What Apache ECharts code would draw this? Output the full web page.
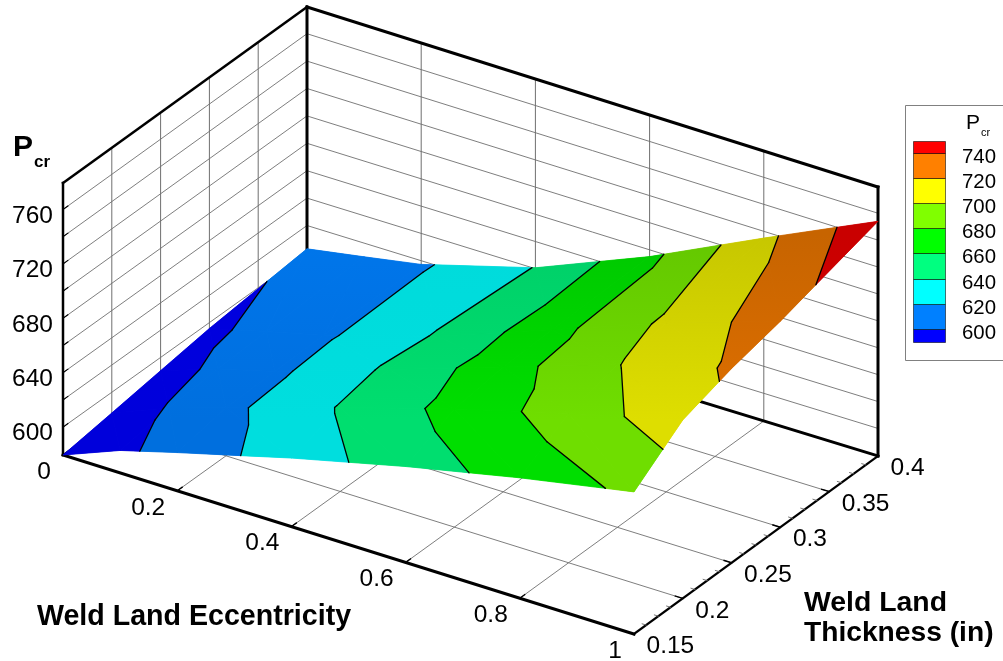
<!DOCTYPE html>
<html><head><meta charset="utf-8">
<style>html,body{margin:0;padding:0;background:#fff}#c{width:1003px;height:661px}</style>
<script src="https://cdn.jsdelivr.net/npm/echarts@6/dist/echarts.min.js"></script>
</head><body><div id="c"></div>
<script>
// ---- data ----
const eccentricity = [0, 0.1, 0.2, 0.4, 0.6, 0.8, 1];
const thickness = [0.15, 0.2, 0.25, 0.3, 0.4];
const pAtT015 = [579.5, 596, 607.6, 629.9, 650, 668, 684];
const pAtT020 = [584.8, 601.6, 614.8, 641.3, 666.5, 689.5, 711];
const pAtT025 = [590.3, 604.5, 615.7, 643.3, 671.5, 699.3, 723];
const pAtT030 = [595.7, 606.4, 616.6, 642, 673, 704, 732];
const pAtT040 = [603, 610, 617.3, 640.7, 675, 715, 754];
const pressureRows = [pAtT015, pAtT020, pAtT025, pAtT030, pAtT040];
const contourLevels = [600, 620, 640, 660, 680, 700, 720, 740];
const bandColors = ['#0000ff','#0080ff','#00ffff','#00ff80','#00ff00','#80ff00','#ffff00','#ff8000','#ff0000'];
const bandShadeFront = [0.86, 0.87, 0.87, 0.87, 0.87, 0.87, 0.87, 0.87, 0.85];
const bandShadeBack = [0.88, 0.92, 0.86, 0.81, 0.785, 0.78, 0.78, 0.78, 0.79];
const eccTicks = [0, 0.2, 0.4, 0.6, 0.8, 1];
const eccTickLabels = ['0','0.2','0.4','0.6','0.8','1'];
const thickTicks = [0.15, 0.2, 0.25, 0.3, 0.35, 0.4];
const thickTickLabels = ['0.15','0.2','0.25','0.3','0.35','0.4'];
const pTicks = [600, 640, 680, 720, 760];
const pGrid = [600, 620, 640, 660, 680, 700, 720, 740, 760];
const pRange = [579.5, 779.5];
const eRange = [0, 1];
const tRange = [0.15, 0.4];

// ---- camera: the box corners on the page (order: e0t0, e1t0, e1t1, e0t1) ----
const camX = [63, 634, 878, 307];
const camY = [455, 634, 456, 281];
const camH = [272, 272, 269, 274];
const bil = (c, u, v) => c[0]*(1-u)*(1-v) + c[1]*u*(1-v) + c[2]*u*v + c[3]*(1-u)*v;
const toU = e => (e - eRange[0]) / (eRange[1] - eRange[0]);
const toV = t => (t - tRange[0]) / (tRange[1] - tRange[0]);
function project(u, v, p) {
  const w = (p - pRange[0]) / (pRange[1] - pRange[0]);
  return [bil(camX, u, v), bil(camY, u, v) - w * bil(camH, u, v)];
}
function scaled(hex, f) {
  const n = parseInt(hex.slice(1), 16);
  const ch = s => Math.round(((n >> s) & 255) * f);
  return 'rgb(' + ch(16) + ',' + ch(8) + ',' + ch(0) + ')';
}
const shadeSpan = [420, 235]; // page heights over which the surface dims towards the back
function bandFill(b, api) {
  const a = api.coord([0, shadeSpan[0]]), c = api.coord([0, shadeSpan[1]]);
  return { type: 'linear', global: true, x: 0, y: a[1], x2: 0, y2: c[1], colorStops: [
    { offset: 0, color: scaled(bandColors[b], bandShadeFront[b]) },
    { offset: 1, color: scaled(bandColors[b], bandShadeBack[b]) } ] };
}
function bandSolid(b, pageY) {
  const s = Math.min(1, Math.max(0, (shadeSpan[0] - pageY) / (shadeSpan[0] - shadeSpan[1])));
  return scaled(bandColors[b], bandShadeFront[b] + s * (bandShadeBack[b] - bandShadeFront[b]));
}

// ---- triangles of the surface ----
const tris = [];
for (let j = 0; j < thickness.length - 1; j++) for (let i = 0; i < eccentricity.length - 1; i++) {
  const V = (a, b) => [toU(eccentricity[a]), toV(thickness[b]), pressureRows[b][a]];
  tris.push([V(i, j), V(i + 1, j), V(i, j + 1)]);
  tris.push([V(i + 1, j), V(i + 1, j + 1), V(i, j + 1)]);
}
const mix = (a, b, s) => [a[0]+(b[0]-a[0])*s, a[1]+(b[1]-a[1])*s, a[2]+(b[2]-a[2])*s];
function clip(poly, level, keepAbove) {
  const out = [];
  for (let k = 0; k < poly.length; k++) {
    const a = poly[k], b = poly[(k + 1) % poly.length];
    const ia = keepAbove ? a[2] >= level : a[2] <= level;
    const ib = keepAbove ? b[2] >= level : b[2] <= level;
    if (ia) out.push(a);
    if (ia !== ib) out.push(mix(a, b, (level - a[2]) / (b[2] - a[2])));
  }
  return out;
}
function bandPolys(t) {
  const r = [];
  bandColors.forEach((col, b) => {
    let poly = t;
    if (b > 0) poly = clip(poly, contourLevels[b - 1], true);
    if (poly.length && b < contourLevels.length) poly = clip(poly, contourLevels[b], false);
    if (poly.length >= 3) r.push({ b, pts: poly.map(q => project(q[0], q[1], q[2])) });
  });
  return r;
}

// ---- guide lines in data terms ----
const guides = [];
const seg = (a, b, color, width) => guides.push({ a, b, color, width });
const GRID = '#6f6f6f', K = '#000';
const [zLo, zHi] = pRange;
eccTicks.slice(1, -1).forEach(e => seg([toU(e), 0, zLo], [toU(e), 1, zLo], GRID, 0.9));
thickTicks.slice(1, -1).forEach(t => seg([0, toV(t), zLo], [1, toV(t), zLo], GRID, 0.9));
pGrid.forEach(p => {
  seg([0, 0, p], [0, 1, p], GRID, 0.9);
  seg([0, 1, p], [1, 1, p], GRID, 0.9);
});
thickTicks.slice(1, -1).forEach(t => seg([0, toV(t), zLo], [0, toV(t), zHi], GRID, 1));
eccTicks.slice(1, -1).forEach(e => seg([toU(e), 1, zLo], [toU(e), 1, zHi], GRID, 1));
seg([0,1,zLo],[1,1,zLo],K,3);
seg([0,0,zLo],[0,1,zLo],K,2);
seg([1,1,zLo],[1,1,zHi],K,3);
seg([0,1,zLo],[0,1,zHi],K,3);
seg([0,1,zHi],[1,1,zHi],K,3);
seg([0,0,zHi],[0,1,zHi],K,2.5);
seg([0,0,zLo],[0,0,zHi],K,2.5);
seg([0,0,zLo],[1,0,zLo],K,3);
seg([1,0,zLo],[1,1,zLo],K,2.2);
pGrid.forEach(p => seg([0,0,p],[0,0.02,p],K,1.1));
eccTicks.slice(1, -1).forEach(e => seg([toU(e),0,zLo],[toU(e),0.02,zLo],K,1.4));
thickTicks.slice(1, -1).forEach(t => seg([1,toV(t),zLo],[0.987,toV(t),zLo],K,1.5));
const thickMinorStep = 0.0125;
thickTicks.slice(0, -1).forEach(t => [1,2,3].forEach(k => {
  const q = toV(t + k * thickMinorStep);
  seg([1,q,zLo],[0.993,q,zLo],'#666',0.9);
}));

// ---- text ----
const FONT = '"Liberation Sans",Arial,sans-serif';
const labels = [];
const lab = (text, x, y, size, align, weight) => labels.push({ text, x, y, size, align, weight: weight || 'normal' });
eccTicks.forEach((e, i) => {
  const q = project(toU(e), 0, zLo);
  lab(eccTickLabels[i], q[0] - 12, q[1] + 17, 24.5, 'right');
});
thickTicks.forEach((t, i) => {
  const q = project(1, toV(t), zLo);
  lab(thickTickLabels[i], q[0] + 12.5, q[1] + 12.5, 24.5, 'left');
});
pTicks.forEach(p => {
  const q = project(0, 0, p);
  lab(String(p), q[0] - 10, q[1] + 6.5, 24.5, 'right');
});
lab('Weld Land Eccentricity', 37, 617, 28.6, 'left', 'bold');
lab('Weld Land', 804, 603, 28.4, 'left', 'bold');
lab('Thickness (in)', 804, 633, 28.2, 'left', 'bold');
lab('P', 13, 148, 30, 'left', 'bold');
lab('cr', 34, 162, 17, 'left', 'bold');

// ---- legend, bottom row upward ----
const legendBox = { x: 905, y: 105, w: 110, h: 255 };
const legendRows = [342, 329, 304, 279, 253, 228, 203, 178, 153, 141];
const legendBarX = [913, 945];
contourLevels.forEach((lv, i) => lab(String(lv), 962, legendRows[i + 1] + 4, 20.4, 'left'));
lab('P', 966, 123, 21, 'left');
lab('cr', 981, 133, 11, 'left');

const chart = echarts.init(document.getElementById('c'), null, { renderer: 'canvas' });
const xy = (api, q) => api.coord(q);
chart.setOption({
  animation: false,
  backgroundColor: '#fff',
  grid: { left: 0, top: 0, right: 0, bottom: 0 },
  xAxis: { type: 'value', min: 0, max: 1003, show: false },
  yAxis: { type: 'value', min: 0, max: 661, inverse: true, show: false },
  series: [
    {
      type: 'custom', coordinateSystem: 'cartesian2d', clip: false, silent: true, z: 1,
      data: guides.map((g, i) => [i, 0]),
      renderItem(params, api) {
        const g = guides[params.dataIndex];
        return { type: 'polyline', shape: { points: [xy(api, project(...g.a)), xy(api, project(...g.b))] },
          style: { stroke: g.color, lineWidth: g.width, fill: null, lineCap: 'square' } };
      }
    },
    { // seam backing under the surface fill
      type: 'custom', coordinateSystem: 'cartesian2d', clip: false, silent: true, z: 2,
      data: tris.map((t, i) => [i, 0]),
      renderItem(params, api) {
        return { type: 'group', children: bandPolys(tris[params.dataIndex]).map(o => {
          const cy = o.pts.reduce((s, q) => s + q[1], 0) / o.pts.length;
          return { type: 'polygon', shape: { points: o.pts.map(q => xy(api, q)) },
            style: { fill: bandSolid(o.b, cy), stroke: bandSolid(o.b, cy), lineWidth: 0.8 } };
        }) };
      }
    },
    { // surface fill
      type: 'custom', coordinateSystem: 'cartesian2d', clip: false, silent: true, z: 3,
      data: tris.map((t, i) => [i, 0]),
      renderItem(params, api) {
        return { type: 'group', children: bandPolys(tris[params.dataIndex]).map(o => ({
          type: 'polygon', shape: { points: o.pts.map(q => xy(api, q)) },
          style: { fill: bandFill(o.b, api), stroke: null } })) };
      }
    },
    {
      type: 'custom', coordinateSystem: 'cartesian2d', clip: false, silent: true, z: 4,
      data: tris.map((t, i) => [i, 0]),
      renderItem(params, api) {
        const t = tris[params.dataIndex];
        const children = [];
        contourLevels.forEach(lv => {
          const pts = [];
          for (let k = 0; k < 3; k++) {
            const a = t[k], b = t[(k + 1) % 3];
            if ((a[2] - lv) * (b[2] - lv) < 0) pts.push(mix(a, b, (lv - a[2]) / (b[2] - a[2])));
          }
          if (pts.length === 2) children.push({ type: 'polyline',
            shape: { points: pts.map(q => xy(api, project(q[0], q[1], q[2]))) },
            style: { stroke: '#000', lineWidth: 1.3, fill: null, lineCap: 'round' } });
        });
        return { type: 'group', children };
      }
    },
    {
      type: 'custom', coordinateSystem: 'cartesian2d', clip: false, silent: true, z: 5,
      data: [[0, 0]],
      renderItem(params, api) {
        const children = [];
        const o = xy(api, [legendBox.x, legendBox.y]), e = xy(api, [legendBox.x + legendBox.w, legendBox.y + legendBox.h]);
        children.push({ type: 'rect', shape: { x: o[0] + 0.5, y: o[1] + 0.5, width: e[0] - o[0], height: e[1] - o[1] },
          style: { fill: '#fff', stroke: '#808080', lineWidth: 1 } });
        bandColors.forEach((col, i) => {
          const a = xy(api, [legendBarX[0], legendRows[i + 1]]), b = xy(api, [legendBarX[1], legendRows[i]]);
          children.push({ type: 'rect', shape: { x: a[0] + 0.5, y: a[1] + 0.5, width: b[0] - a[0], height: b[1] - a[1] },
            style: { fill: col, stroke: 'rgba(0,0,0,0.55)', lineWidth: 1 } });
        });
        return { type: 'group', children };
      }
    },
    {
      type: 'custom', coordinateSystem: 'cartesian2d', clip: false, silent: true, z: 6,
      data: labels.map((l, i) => [i, 0]),
      renderItem(params, api) {
        const l = labels[params.dataIndex];
        const q = xy(api, [l.x, l.y]);
        return { type: 'text', style: { text: l.text, x: q[0], y: q[1], fill: '#000',
          font: l.weight + ' ' + l.size + 'px ' + FONT, align: l.align, verticalAlign: 'middle' } };
      }
    }
  ]
});
</script></body></html>
